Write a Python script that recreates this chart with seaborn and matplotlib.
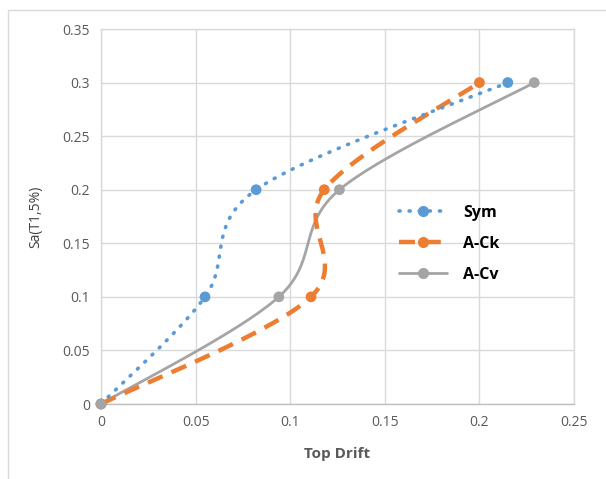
import numpy as np
import pandas as pd
import matplotlib
matplotlib.use("Agg")
import matplotlib.pyplot as plt
from matplotlib.lines import Line2D
from matplotlib.patches import Rectangle
import seaborn as sns

series_names = ["Sym", "A-Ck", "A-Cv"]
sym_drift = [0.0, 0.055, 0.082, 0.215]
sym_sa = [0.0, 0.1, 0.2, 0.3]
ack_drift = [0.0, 0.111, 0.118, 0.200]
ack_sa = [0.0, 0.1, 0.2, 0.3]
acv_drift = [0.0, 0.094, 0.126, 0.229]
acv_sa = [0.0, 0.1, 0.2, 0.3]
x_ticks = [0, 0.05, 0.1, 0.15, 0.2, 0.25]
y_ticks = [0, 0.05, 0.1, 0.15, 0.2, 0.25, 0.3, 0.35]
colors = {"Sym": "#5B9BD5", "A-Ck": "#ED7D31", "A-Cv": "#A5A5A5"}

XR, YR = 0.25, 0.35
PXW, PXH = 473.0, 375.0


def smooth(xs, ys, n=60):
    # Excel-like Bezier smoothing computed in screen space
    P = np.column_stack([np.array(xs) / XR * PXW, np.array(ys) / YR * PXH])
    m = len(P)
    out = []
    for i in range(m - 1):
        p0 = P[i - 1] if i > 0 else P[i]
        p1, p2 = P[i], P[i + 1]
        p3 = P[i + 2] if i + 2 < m else P[i + 1]
        c1 = p1 + (p2 - p0) / 6.0
        c2 = p2 - (p3 - p1) / 6.0
        t = np.linspace(0, 1, n)[:, None]
        seg = ((1 - t) ** 3) * p1 + 3 * ((1 - t) ** 2) * t * c1 + 3 * (1 - t) * t ** 2 * c2 + t ** 3 * p2
        out.append(seg if i == 0 else seg[1:])
    out = np.vstack(out)
    return out[:, 0] / PXW * XR, out[:, 1] / PXH * YR


raw = {"Sym": (sym_drift, sym_sa), "A-Ck": (ack_drift, ack_sa), "A-Cv": (acv_drift, acv_sa)}
curves = []
points = []
for name in series_names:
    xs, ys = raw[name]
    cx, cy = smooth(xs, ys)
    curves.append(pd.DataFrame({"drift": cx, "sa": cy, "series": name}))
    points.append(pd.DataFrame({"drift": xs, "sa": ys, "series": name}))
curves = pd.concat(curves, ignore_index=True)
points = pd.concat(points, ignore_index=True)

sns.set_style("white")
plt.rcParams["font.family"] = ["Open Sans", "DejaVu Sans"]

fig = plt.figure(figsize=(6.06, 4.79), dpi=100)
ax = fig.add_axes([101 / 606, 1 - 404 / 479, 473 / 606, 375 / 479])

styles = {"Sym": dict(lw=2.6, ls=(0, (0.3, 2.5)), dash_capstyle="round"),
          "A-Ck": dict(lw=3.2, ls=(0, (3.6, 2.2)), dash_capstyle="butt"),
          "A-Cv": dict(lw=2.0, ls="-")}
for name in ["A-Cv", "A-Ck", "Sym"]:
    d = curves[curves.series == name]
    sns.lineplot(data=d, x="drift", y="sa", sort=False, estimator=None, ax=ax,
                 color=colors[name], legend=False, zorder=3, **styles[name])
for name in ["Sym", "A-Ck", "A-Cv"]:
    p = points[points.series == name]
    sc = sns.scatterplot(data=p, x="drift", y="sa", ax=ax, color=colors[name], s=60,
                         edgecolor="none", legend=False, zorder=4)
for coll in ax.collections:
    coll.set_clip_on(False)

ax.set_xlim(0, XR)
ax.set_ylim(0, YR)
ax.set_xticks(x_ticks)
ax.set_yticks(y_ticks)
ax.set_xticklabels([f"{v:g}" for v in x_ticks])
ax.set_yticklabels([f"{v:g}" for v in y_ticks])
ax.tick_params(colors="#595959", labelsize=10, length=0, pad=8)
ax.grid(True, color="#D9D9D9", lw=1)
ax.set_axisbelow(True)
for s in ax.spines.values():
    s.set_color("#D9D9D9")
    s.set_linewidth(1)
ax.spines["bottom"].set_color("#BFBFBF")
ax.set_xlabel("Top Drift", fontsize=11, fontweight="bold", color="#595959", labelpad=12)
ax.set_ylabel("Sa(T1,5%)", fontsize=10, color="#404040", labelpad=14)

handles = [Line2D([], [], color=colors[n], marker="o", markersize=7, **styles[n]) for n in series_names]
leg = ax.legend(handles, series_names, loc="upper left", bbox_to_anchor=(0.6, 0.57),
                frameon=False, handlelength=3.0, handletextpad=1.0, labelspacing=0.95,
                prop={"weight": "bold", "size": 11.5})
for t in leg.get_texts():
    t.set_color("black")

fig.patches.append(Rectangle((8 / 606, -0.1), 1.1, 1 - 10 / 479 + 0.1, transform=fig.transFigure,
                             fill=False, edgecolor="#D9D9D9", lw=1))
fig.savefig("out.png", dpi=100)
